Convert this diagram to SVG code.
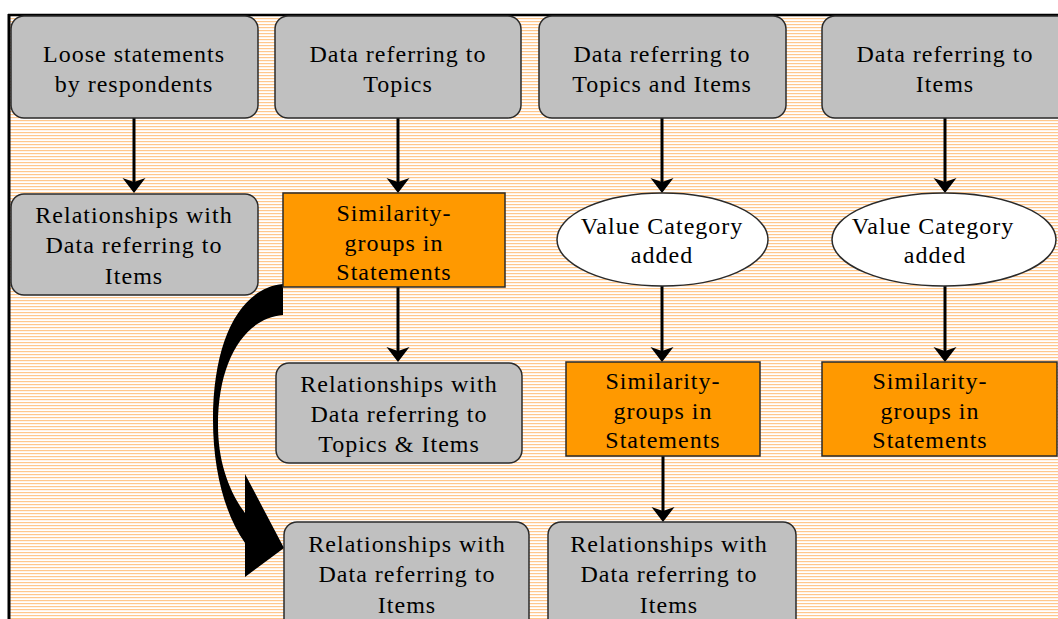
<svg xmlns="http://www.w3.org/2000/svg" width="1058" height="619" viewBox="0 0 1058 619">
  <defs>
    <!-- thin horizontal hatch used for the sheet background -->
    <pattern id="hatch" width="6" height="3" patternUnits="userSpaceOnUse">
      <rect width="6" height="3" fill="#ffffff"/>
      <rect width="6" height="1.2" fill="#ffc78c"/>
    </pattern>
    <marker id="head" markerUnits="userSpaceOnUse" markerWidth="24" markerHeight="24" viewBox="0 0 24 24" refX="9" refY="11.5" orient="auto">
      <path d="M0,0 L15,11.5 L0,23 L4,11.5 Z" fill="#000"/>
    </marker>
    <style>
      .gray { fill: #c0c0c0; stroke: #2a2a2a; stroke-width: 1.5; }
      .orange { fill: #ff9900; stroke: #2a2a2a; stroke-width: 1.5; }
      .oval { fill: #ffffff; stroke: #2a2a2a; stroke-width: 1.5; }
      text { font-family: "Liberation Serif", "Times New Roman", serif; font-size: 24px; letter-spacing: 1px; fill: #000000; text-anchor: middle; }
      .arrow { stroke: #000; stroke-width: 3; fill: none; marker-end: url(#head); }
    </style>
  </defs>

  <!-- sheet with frame -->
  <rect x="0" y="0" width="1058" height="619" fill="#ffffff"/>
  <rect x="9" y="15" width="1060" height="620" fill="url(#hatch)"/>
  <line x1="8" y1="15" x2="1058" y2="15" stroke="#000" stroke-width="2.5"/>
  <line x1="9" y1="14" x2="9" y2="619" stroke="#000" stroke-width="3"/>

  <!-- connectors -->
  <g id="connectors">
    <line class="arrow" x1="134" y1="118" x2="134" y2="187"/>
    <line class="arrow" x1="398" y1="118" x2="398" y2="187"/>
    <line class="arrow" x1="662" y1="118" x2="662" y2="187"/>
    <line class="arrow" x1="945" y1="118" x2="945" y2="187"/>
    <line class="arrow" x1="398" y1="287" x2="398" y2="356"/>
    <line class="arrow" x1="662" y1="286" x2="662" y2="356"/>
    <line class="arrow" x1="945" y1="286" x2="945" y2="356"/>
    <line class="arrow" x1="663" y1="456" x2="663" y2="516"/>
    <!-- broad curved arrow from the first similarity group down to the lower relationships box -->
    <path d="M283,284 C240,288 213,340 213,420 C213,470 225,515 245,543 L245,577 L284,548 L245,474 L245,513 C228,490 218,460 218,425 C218,360 245,318 283,315 Z" fill="#000"/>
  </g>

  <!-- top row -->
  <g id="loose">
    <rect class="gray" x="11" y="16" width="247" height="102" rx="13"/>
    <text x="134" y="62">Loose statements</text>
    <text x="134" y="92">by respondents</text>
  </g>
  <g id="topics">
    <rect class="gray" x="275" y="16" width="246" height="102" rx="13"/>
    <text x="398" y="62">Data referring to</text>
    <text x="398" y="92">Topics</text>
  </g>
  <g id="topics-items">
    <rect class="gray" x="539" y="16" width="247" height="102" rx="13"/>
    <text x="662" y="62">Data referring to</text>
    <text x="662" y="92">Topics and Items</text>
  </g>
  <g id="items">
    <rect class="gray" x="822" y="16" width="250" height="102" rx="13"/>
    <text x="945" y="62">Data referring to</text>
    <text x="945" y="92">Items</text>
  </g>

  <!-- second row -->
  <g id="rel-loose">
    <rect class="gray" x="11" y="194" width="247" height="101" rx="13"/>
    <text x="134" y="223">Relationships with</text>
    <text x="134" y="253">Data referring to</text>
    <text x="134" y="284">Items</text>
  </g>
  <g id="sim-topics">
    <rect class="orange" x="283" y="193" width="222" height="94"/>
    <text x="394" y="221">Similarity-</text>
    <text x="394" y="251">groups in</text>
    <text x="394" y="280">Statements</text>
  </g>
  <g id="value-1">
    <ellipse class="oval" cx="662.5" cy="239.5" rx="105.5" ry="46.5"/>
    <text x="662" y="234">Value Category</text>
    <text x="662" y="263">added</text>
  </g>
  <g id="value-2">
    <ellipse class="oval" cx="944" cy="239.5" rx="112" ry="46.5"/>
    <text x="933" y="234">Value Category</text>
    <text x="935" y="263">added</text>
  </g>

  <!-- third row -->
  <g id="rel-topics">
    <rect class="gray" x="276" y="363" width="246" height="100" rx="13"/>
    <text x="399" y="392">Relationships with</text>
    <text x="399" y="422">Data referring to</text>
    <text x="399" y="452">Topics &amp; Items</text>
  </g>
  <g id="sim-topics-items">
    <rect class="orange" x="566" y="362" width="194" height="94"/>
    <text x="663" y="389">Similarity-</text>
    <text x="663" y="419">groups in</text>
    <text x="663" y="448">Statements</text>
  </g>
  <g id="sim-items">
    <rect class="orange" x="822" y="362" width="235" height="94"/>
    <text x="930" y="389">Similarity-</text>
    <text x="930" y="419">groups in</text>
    <text x="930" y="448">Statements</text>
  </g>

  <!-- bottom row -->
  <g id="rel-items-a">
    <rect class="gray" x="284" y="522" width="245" height="110" rx="13"/>
    <text x="407" y="552">Relationships with</text>
    <text x="407" y="582">Data referring to</text>
    <text x="407" y="613">Items</text>
  </g>
  <g id="rel-items-b">
    <rect class="gray" x="548" y="522" width="248" height="110" rx="13"/>
    <text x="669" y="552">Relationships with</text>
    <text x="669" y="582">Data referring to</text>
    <text x="669" y="613">Items</text>
  </g>
</svg>
